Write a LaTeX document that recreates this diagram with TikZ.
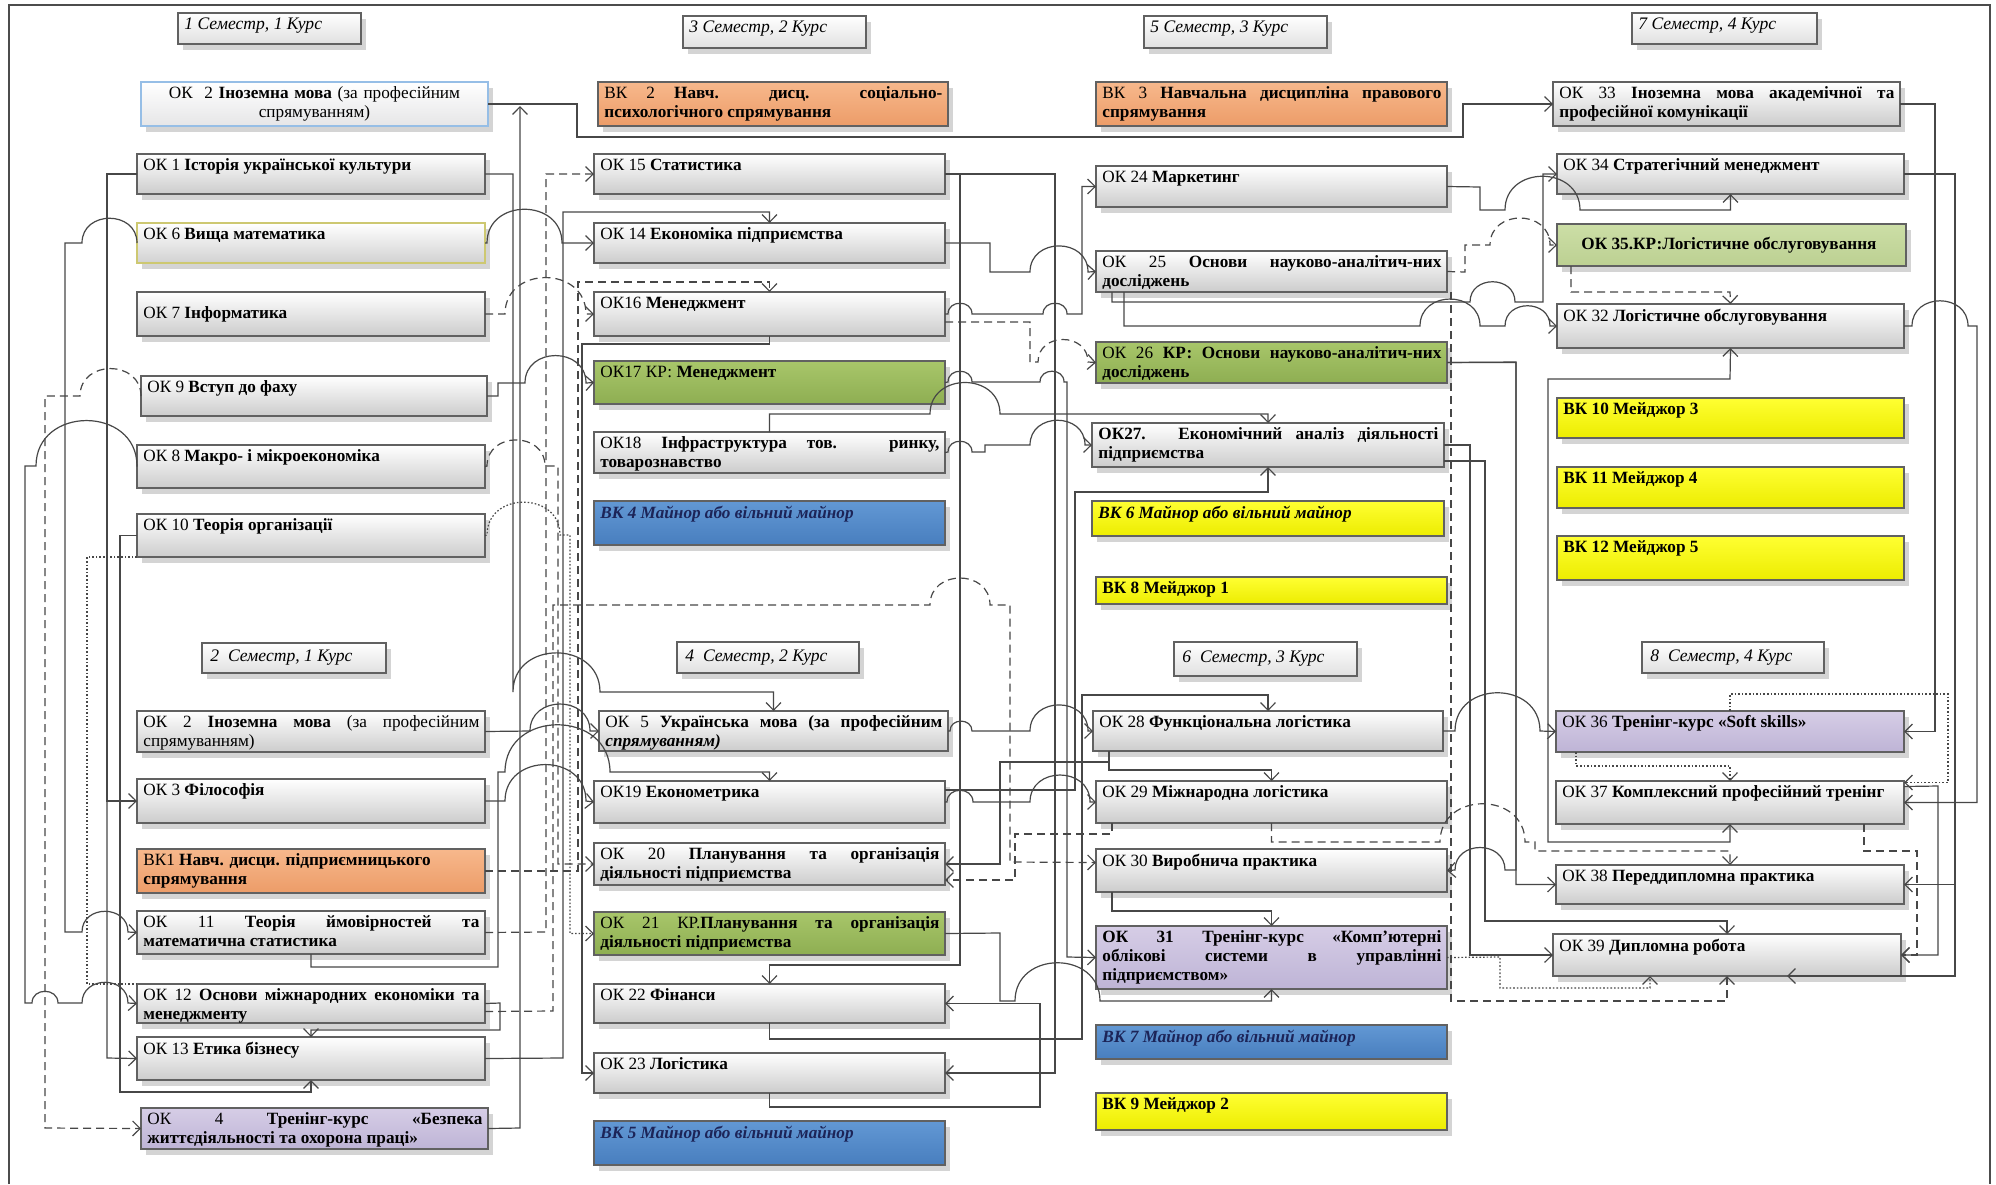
\documentclass[tikz,border=0pt]{standalone}
\usepackage{fontspec}
\setmainfont{Liberation Serif}
\usetikzlibrary{arrows.meta,shadows}
\definecolor{orT}{RGB}{247,184,140}\definecolor{orB}{RGB}{236,156,104}
\definecolor{grT}{RGB}{168,198,106}\definecolor{grB}{RGB}{142,174,82}
\definecolor{lgT}{RGB}{204,222,166}\definecolor{lgB}{RGB}{188,208,146}
\definecolor{blT}{RGB}{98,152,212}\definecolor{blB}{RGB}{72,126,190}
\definecolor{ylT}{RGB}{255,255,50}\definecolor{ylB}{RGB}{236,236,0}
\definecolor{puT}{RGB}{214,205,230}\definecolor{puB}{RGB}{190,180,214}
\definecolor{navy}{RGB}{28,36,88}
\definecolor{lbd}{RGB}{150,190,230}
\newcommand\nohyph{\hyphenpenalty=10000\relax\exhyphenpenalty=10000\relax}
\tikzset{
  bxbase/.style={draw=black!62, line width=0.9pt, inner sep=0pt, outer sep=0pt,
    drop shadow={shadow xshift=2.5pt, shadow yshift=-3pt, fill=black!30, opacity=0.55}},
  wbox/.style={bxbase, top color=white, bottom color=black!20},
  tbox/.style={bxbase, line width=0.7pt, top color=white, bottom color=black!12},
  lbbox/.style={bxbase, draw=lbd, top color=white, bottom color=blue!6!black!10},
  ybbox/.style={bxbase, draw=olive!45, top color=white, bottom color=black!18},
  obox/.style={bxbase, top color=orT, bottom color=orB},
  gbox/.style={bxbase, top color=grT, bottom color=grB},
  lgbox/.style={bxbase, top color=lgT, bottom color=lgB},
  bbox/.style={bxbase, top color=blT, bottom color=blB},
  ybox/.style={bxbase, top color=ylT, bottom color=ylB},
  pbox/.style={bxbase, top color=puT, bottom color=puB},
  txt/.style={inner xsep=3pt, inner ysep=2.2pt, align=justify,
    font=\fontsize{8.6}{9.5}\selectfont\nohyph},
  ln/.style={draw=black!72, line width=0.6pt},
  dsh/.style={ln, dash pattern=on 4pt off 2.5pt},
  dtt/.style={ln, dash pattern=on 0.8pt off 1pt},
  arr/.style={-{Straight Barb[length=3.8pt,width=7.5pt]}},
  arrb/.style={{Straight Barb[length=3.8pt,width=7.5pt]}-{Straight Barb[length=3.8pt,width=7.5pt]}},
}
\newcommand\bx[7]{%
  \node[#2, minimum width={(#5-#3)*0.5pt}, minimum height={(#6-#4)*0.5pt}, anchor=north west] (#1) at (#3,#4) {};
  \node[txt, text width={(#5-#3)*0.5pt-6pt}, anchor=north west] (#1-t) at (#1.north west) {#7};}
\newcommand\bxm[8]{%
  \node[#2, minimum width={(#5-#3)*0.5pt}, minimum height={(#6-#4)*0.5pt}, anchor=north west] (#1) at (#3,#4) {};
  \node[txt, text width={(#5-#3)*0.5pt-6pt-#7}, anchor=west] (#1-t) at ([xshift=#7]#1.west) {#8};}
\newcommand\hopto[3]{-- (#1,#3) .. controls (#1,{#3-0.6*abs(#2-#1)}) and (#2,{#3-0.6*abs(#2-#1)}) .. (#2,#3)}
\newcommand\ttl[1]{{\fontsize{8.8}{10}\selectfont\textit{#1}}}
\begin{document}
\begin{tikzpicture}[x=0.5pt,y=-0.5pt]
\useasboundingbox (0,0) rectangle (1996,1184);
\fill[white] (0,0) rectangle (1996,1184);
\draw[black!70, line width=0.8pt] (9,1184) -- (9,5) -- (1990,5) -- (1990,1184);

% ---------- titles
\bx{t1}{tbox}{178}{13}{361}{44}{\ttl{1 Семестр, 1 Курс}}
\bx{t3}{tbox}{683}{16}{866}{48}{\ttl{3 Семестр, 2 Курс}}
\bx{t5}{tbox}{1144}{16}{1327}{48}{\ttl{5 Семестр, 3 Курс}}
\bx{t7}{tbox}{1632}{13}{1817}{44}{\ttl{7 Семестр, 4 Курс}}
\bxm{t2}{tbox}{202}{643}{386}{673}{1pt}{\ttl{2\ \ Семестр, 1 Курс}}
\bxm{t4}{tbox}{677}{642}{859}{673}{1pt}{\ttl{4\ \ Семестр, 2 Курс}}
\bxm{t6}{tbox}{1174}{642}{1357}{676}{1pt}{\ttl{6\ \ Семестр, 3 Курс}}
\bxm{t8}{tbox}{1642}{642}{1824}{673}{1pt}{\ttl{8\ \ Семестр, 4 Курс}}

% ---------- column 1
\node[lbbox, minimum width=173.5pt, minimum height=22pt, anchor=north west] (ok2a) at (141,82) {};
\node[txt, align=center, text width=167pt, anchor=north] (ok2a-t) at (ok2a.north) {ОК\ \ 2 \textbf{Іноземна мова} (за професійним\\ спрямуванням)};
\bx{ok1}{wbox}{137}{154}{485}{194}{ОК 1 \textbf{Історія української культури}}
\bx{ok6}{ybbox}{137}{223}{485}{263}{ОК 6 \textbf{Вища математика}}
\bxm{ok7}{wbox}{137}{292}{485}{336}{0pt}{ОК 7 \textbf{Інформатика}}
\bx{ok9}{wbox}{141}{376}{487}{416}{ОК 9 \textbf{Вступ до фаху}}
\bx{ok8}{wbox}{137}{445}{485}{488}{ОК 8 \textbf{Макро- і мікроекономіка}}
\bx{ok10}{wbox}{137}{514}{485}{557}{ОК 10 \textbf{Теорія організації}}
\bx{ok2b}{wbox}{137}{711}{485}{752}{ОК 2 \textbf{Іноземна мова} (за професійним\linebreak спрямуванням)}
\bx{ok3}{wbox}{137}{779}{485}{823}{ОК 3 \textbf{Філософія}}
\bx{vk1}{obox}{137}{849}{485}{893}{ВК1 \textbf{Навч. дисци. підприємницького\\ спрямування}}
\bx{ok11}{wbox}{137}{911}{485}{954}{ОК 11 \textbf{Теорія ймовірностей та\linebreak математична статистика}}
\bx{ok12}{wbox}{137}{984}{485}{1023}{ОК 12 \textbf{Основи міжнародних економіки та\linebreak менеджменту}}
\bx{ok13}{wbox}{137}{1037}{485}{1080}{ОК 13 \textbf{Етика бізнесу}}
\bx{ok4}{pbox}{141}{1108}{488}{1149}{ОК 4 \textbf{Тренінг-курс «Безпека\linebreak життєдіяльності та охорона праці»}}

% ---------- column 2
\bx{vk2}{obox}{598}{82}{948}{126}{ВК 2 \textbf{Навч. дисц. соціально-\linebreak психологічного спрямування}}
\bx{ok15}{wbox}{594}{154}{945}{194}{ОК 15 \textbf{Статистика}}
\bx{ok14}{wbox}{594}{223}{945}{263}{ОК 14 \textbf{Економіка підприємства}}
\bx{ok16}{wbox}{594}{292}{945}{336}{ОК16 \textbf{Менеджмент}}
\bx{ok17}{gbox}{594}{361}{945}{404}{ОК17 КР: \textbf{Менеджмент}}
\bx{ok18}{wbox}{594}{432}{945}{473}{ОК18 \textbf{Інфраструктура тов. ринку,\linebreak товарознавство}}
\bx{vk4}{bbox}{594}{501}{945}{545}{\textcolor{navy}{\textbf{\textit{ВК 4 Майнор або вільний майнор}}}}
\bx{ok5}{wbox}{599}{711}{948}{751}{ОК 5 \textbf{Українська мова (за професійним\linebreak \textit{спрямуванням)}}}
\bx{ok19}{wbox}{594}{781}{945}{823}{ОК19 \textbf{Економетрика}}
\bx{ok20}{wbox}{594}{843}{945}{885}{ОК 20 \textbf{Планування та організація\linebreak діяльності підприємства}}
\bx{ok21}{gbox}{594}{912}{945}{955}{ОК 21 КР.\textbf{Планування та організація\linebreak діяльності підприємства}}
\bx{ok22}{wbox}{594}{984}{945}{1023}{ОК 22 \textbf{Фінанси}}
\bx{ok23}{wbox}{594}{1053}{945}{1093}{ОК 23 \textbf{Логістика}}
\bx{vk5}{bbox}{594}{1121}{945}{1165}{\textcolor{navy}{\textbf{\textit{ВК 5 Майнор або вільний майнор}}}}

% ---------- column 3
\bx{vk3}{obox}{1096}{82}{1447}{126}{ВК 3 \textbf{Навчальна дисципліна правового\linebreak спрямування}}
\bx{ok24}{wbox}{1096}{166}{1447}{207}{ОК 24 \textbf{Маркетинг}}
\bx{ok25}{wbox}{1096}{251}{1447}{292}{ОК 25 \textbf{Основи науково-аналітич-них\linebreak досліджень}}
\bx{ok26}{gbox}{1096}{342}{1447}{383}{ОК 26 \textbf{КР: Основи науково-аналітич-них\linebreak досліджень}}
\bx{ok27}{wbox}{1092}{423}{1444}{467}{\textbf{ОК27. Економічний аналіз діяльності\linebreak підприємства}}
\bx{vk6}{ybox}{1092}{501}{1444}{536}{\textbf{\textit{ВК 6 Майнор або вільний майнор}}}
\bx{vk8}{ybox}{1096}{577}{1447}{604}{\textbf{ВК 8 Мейджор 1}}
\bx{ok28}{wbox}{1093}{711}{1443}{751}{ОК 28 \textbf{Функціональна логістика}}
\bx{ok29}{wbox}{1096}{781}{1447}{823}{ОК 29 \textbf{Міжнародна логістика}}
\bx{ok30}{wbox}{1096}{849}{1447}{892}{ОК 30 \textbf{Виробнича практика}}
\bx{ok31}{pbox}{1096}{926}{1447}{989}{\textbf{ОК 31 Тренінг-курс «Комп’ютерні\linebreak облікові системи в управлінні\linebreak підприємством»}}
\bx{vk7}{bbox}{1096}{1025}{1447}{1059}{\textcolor{navy}{\textbf{\textit{ВК 7 Майнор або вільний майнор}}}}
\bx{vk9}{ybox}{1096}{1093}{1447}{1130}{\textbf{ВК 9 Мейджор 2}}

% ---------- column 4
\bx{ok33}{wbox}{1553}{82}{1900}{126}{ОК 33 \textbf{Іноземна мова академічної та\linebreak професійної комунікації}}
\bx{ok34}{wbox}{1557}{154}{1904}{194}{ОК 34 \textbf{Стратегічний менеджмент}}
\bxm{ok35}{lgbox}{1557}{224}{1906}{266}{9pt}{\textbf{ОК 35.КР:Логістичне обслуговування}}
\bx{ok32}{wbox}{1557}{304}{1904}{348}{ОК 32 \textbf{Логістичне обслуговування}}
\bx{vk10}{ybox}{1557}{398}{1904}{438}{\textbf{ВК 10 Мейджор 3}}
\bx{vk11}{ybox}{1557}{467}{1904}{508}{\textbf{ВК 11 Мейджор 4}}
\bx{vk12}{ybox}{1557}{536}{1904}{580}{\textbf{ВК 12 Мейджор 5}}
\bx{ok36}{pbox}{1556}{711}{1904}{752}{ОК 36 \textbf{Тренінг-курс «Soft skills»}}
\bx{ok37}{wbox}{1556}{781}{1904}{824}{ОК 37 \textbf{Комплексний професійний тренінг}}
\bx{ok38}{wbox}{1556}{865}{1904}{904}{ОК 38 \textbf{Переддипломна практика}}
\bx{ok39}{wbox}{1553}{934}{1901}{976}{ОК 39 \textbf{Дипломна робота}}

% ---------- connectors: left of column 1
\draw[ln,arr] (ok1.west) -| (107,1058) -- (ok13.west);
\draw[ln,arr] (ok1.west) -| (107,801) -- (ok3.west);
\draw[ln,arr] (ok6.west) \hopto{137}{82}{243} -- (65,243) -- (65,932) \hopto{82}{128}{932} -- (ok11.west);
\draw[dsh,arr] (ok9.west) \hopto{141}{80}{396} -- (45,396) -- (45,1128) -- (ok4.west);
\draw[ln,arr] (ok8.west) \hopto{137}{36}{466} -- (25,466) -- (25,1003) \hopto{32}{58}{1003} \hopto{82}{128}{1003} -- (ok12.west);
\draw[ln,arr] (ok10.west) -| (120,1092) -| (ok13.south);
\draw[dtt] (ok10.south west) -| (87,984) -- (ok12.north west);

% ---------- between columns 1 and 2
\draw[ln,arr] (ok2a.east) -- (577,104) |- (1463,137) |- (ok33.west);
\coordinate (j1) at (520,106);
\draw[ln,arr] (ok4.east) -- (520,1128) -- (j1);
\draw[ln,arr] (ok1.east) -- (513,174) -- (513,692) \hopto{513}{600}{692} -| (ok5.north);
\draw[ln,arr] (ok6.east) \hopto{487}{562}{243} -- (ok14.west);
\draw[dsh,arr] (ok11.east) -- (546,932) |- (ok15.west);
\draw[dsh,arr] (ok7.east) -- (505,314) \hopto{505}{586}{314} -- (ok16.west);
\draw[ln,arr] (ok9.east) -- (498,396) |- (525,383) \hopto{525}{586}{383} -- (ok17.west);
\draw[dsh,arr] (ok8.east) \hopto{487}{545}{466} -- (558,466) |- (ok20.west);
\draw[dtt,arr] (ok10.east) \hopto{487}{560}{535} -- (570,535) |- (ok21.west);
\draw[ln,arr] (ok2b.east) -- (530,731) \hopto{530}{590}{731} -- (ok5.west);
\draw[ln,arr] (ok3.east) -- (505,801) \hopto{505}{586}{801} -- (ok19.west);
\draw[ln,arr] (ok11.south) |- (498,967) |- (505,772) \hopto{505}{610}{772} -| (ok19.north);
\draw[ln,arr] (ok13.east) -- (563,1058) -- (563,212) -| (ok14.north);
\draw[dsh,arr] (vk1.east) -- (578,871) -- (578,282) -| (ok16.north);
\draw[ln,arr] (ok16.south) |- (582,344) |- (ok23.west);
\draw[dsh,arr] ([yshift=-4pt]ok12.east) -- (553,1011) |- (930,605) \hopto{930}{990}{605} -- (1010,605) -- (1010,862) -- ([yshift=4pt]ok30.west);
\draw[ln,arr] (ok12.east) -- (500,1003) |- (311,1030) -- (ok13.north);

% ---------- between columns 2 and 3
\draw[ln,arr] (ok15.east) -| (960,965) -| (ok22.north);
\draw[ln,arr] (ok15.east) -| (1055,1073) -- (ok23.east);
\draw[ln,arr] (ok14.east) -| (990,272) \hopto{1030}{1088}{272} -- (ok25.west);
\draw[ln,arr] (ok16.east) \hopto{948}{972}{314} \hopto{1043}{1067}{314} -- (1082,314) |- (ok24.west);
\draw[dsh,arr] ([yshift=-4pt]ok16.east) -- (1030,322) |- (1038,362) \hopto{1038}{1088}{362} -- (ok26.west);
\draw[ln,arr] (ok17.east) \hopto{948}{972}{382} \hopto{1040}{1064}{382} -- (1067,382) -- (1067,957) -- (ok31.west);
\draw[ln,arr] (ok18.east) \hopto{948}{972}{452} -- (985,452) |- (1030,445) \hopto{1030}{1085}{445} -- (ok27.west);
\draw[ln,arr] (ok18.north) |- (930,414) \hopto{930}{1000}{414} -| (ok27.north);
\draw[ln,arr] (ok5.east) \hopto{950}{972}{731} -- (1030,731) \hopto{1030}{1088}{731} -- (ok28.west);
\draw[ln,arr] (ok19.east) \hopto{947}{973}{802} -- (1030,802) \hopto{1030}{1090}{802} -- (ok29.west);
\draw[ln,arr] ([xshift=8pt]ok28.south west) |- (1000,762) |- (ok20.east);
\draw[dsh,arr] ([xshift=8pt]ok29.south west) |- (1015,834) |- ([yshift=-8pt]ok20.east);
\draw[ln,arr] (ok22.south) |- (1082,1039) |- (1268,695) -- (ok28.north);
\draw[ln,arr] (ok23.south) |- (1040,1107) |- (ok22.east);
\draw[ln,arr] ([xshift=8pt]ok28.south west) |- (1271.5,770) -- (ok29.north);
\draw[ln,arr] ([xshift=8pt]ok30.south west) |- (1271.5,911) -- (ok31.north);
\draw[ln,arr] (ok21.east) -- (1000,933) |- (1015,1001) \hopto{1015}{1100}{1001} -| (ok31.south);
\draw[ln,arr] ([yshift=6pt]ok19.east) -| (1075,492) -| (ok27.south);

% ---------- between columns 3 and 4, and right side
\draw[ln,arr] (ok24.east) -- (1480,187) |- (1505,210) \hopto{1505}{1580}{210} -| (ok34.south);
\draw[ln,arr] ([xshift=8pt]ok25.south west) |- (1470,302) \hopto{1470}{1515}{302} -- (1543,302) |- (ok34.west);
\draw[ln,arr] ([xshift=14pt]ok25.south west) |- (1420,326) \hopto{1420}{1480}{326} -- (1505,326) \hopto{1505}{1550}{326} -- (ok32.west);
\draw[dsh,arr] (ok25.east) -- (1465,272) |- (1490,245) \hopto{1490}{1550}{245} -- (ok35.west);
\draw[dsh,arr] ([xshift=7pt]ok35.south west) |- (1730,292) -- (ok32.north);
\draw[ln,arr] (ok26.east) -- (1516,362) |- (ok38.west);
\draw[ln,arr] (ok26.east) -| (1516,870) -- (1505,870) \hopto{1505}{1455}{870} -- (ok30.east);
\draw[dsh,arr] ([xshift=2pt]ok25.south east) |- (1727,1001) -- (ok39.south);
\draw[ln,arr] (ok27.east) -- (1470,445) |- (ok39.west);
\draw[ln,arr] ([yshift=-8pt]ok27.east) -- (1485,461) |- (1727,921) -- (ok39.north);
\draw[dtt,arr] (ok31.east) -- (1500,957) |- (1650,988) -- ([xshift=-38.5pt]ok39.south);
\draw[ln,arrb] (ok37.south) |- (1548,842) |- (1730,379) -- (ok32.south);
\draw[dsh,arr] (ok29.south) |- (1440,842) \hopto{1440}{1525}{842} -- (1535,842) -- (1535,851) -| (ok38.north);
\draw[dsh,arr] ([xshift=-20pt]ok37.south east) |- (1917,851) |- (ok39.east);
\draw[ln,arr] ([yshift=8pt]ok37.east) -- (1938,786) |- (ok39.east);
\draw[ln,arr] (ok33.east) -- (1935,104) |- (ok36.east);
\draw[ln,arr] (ok34.east) -- (1955,174) |- (ok38.east);
\draw[ln,arr] (ok34.east) -| (1955,976) -- ([xshift=30pt]ok39.south);
\draw[ln,arr] (ok32.east) \hopto{1912}{1968}{326} -- (1977,326) |- (ok37.east);
\draw[dtt,arr] (ok36.north) |- (1948,694) |- ([yshift=10pt]ok37.east);
\draw[dtt,arr] ([xshift=10pt]ok36.south west) |- (1730,766) -- (ok37.north);
\draw[ln,arr] (ok28.east) -- (1455,731) \hopto{1455}{1540}{731} -- (ok36.west);
\end{tikzpicture}
\end{document}
